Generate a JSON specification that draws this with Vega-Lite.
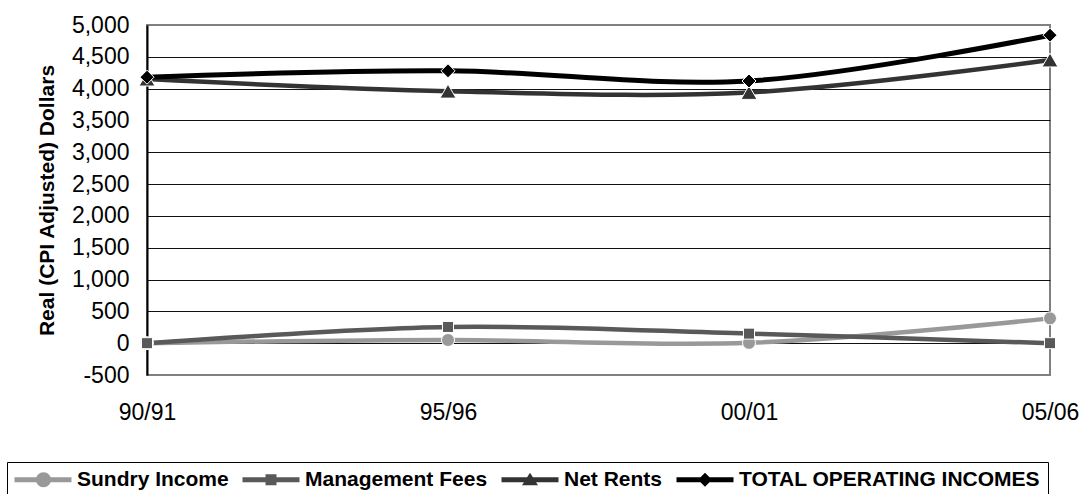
{
  "$schema": "https://vega.github.io/schema/vega-lite/v6.json",
  "autosize": "none",
  "width": 903,
  "height": 350,
  "padding": {"left": 147, "top": 25, "right": 33, "bottom": 119},
  "background": "white",
  "config": {
    "font": "Liberation Sans",
    "view": {"stroke": "#808080", "strokeWidth": 2},
    "legend": {
      "orient": "none",
      "direction": "horizontal",
      "strokeColor": "black",
      "strokeWidth": 1,
      "padding": 7,
      "labelFont": "Liberation Sans",
      "labelFontSize": 21,
      "labelFontWeight": "bold",
      "labelColor": "black",
      "labelLimit": 500,
      "labelOffset": 42,
      "columnPadding": 13,
      "symbolSize": 400,
      "symbolOpacity": 1,
      "symbolStrokeWidth": 0
    }
  },
  "data": {
    "values": [
      {"period": "90/91", "series": "Sundry Income", "value": 0},
      {"period": "95/96", "series": "Sundry Income", "value": 50},
      {"period": "00/01", "series": "Sundry Income", "value": 5},
      {"period": "05/06", "series": "Sundry Income", "value": 390},
      {"period": "90/91", "series": "Management Fees", "value": 0},
      {"period": "95/96", "series": "Management Fees", "value": 255},
      {"period": "00/01", "series": "Management Fees", "value": 150},
      {"period": "05/06", "series": "Management Fees", "value": 0},
      {"period": "90/91", "series": "Net Rents", "value": 4150},
      {"period": "95/96", "series": "Net Rents", "value": 3960},
      {"period": "00/01", "series": "Net Rents", "value": 3940},
      {"period": "05/06", "series": "Net Rents", "value": 4450},
      {"period": "90/91", "series": "TOTAL OPERATING INCOMES", "value": 4180},
      {"period": "95/96", "series": "TOTAL OPERATING INCOMES", "value": 4280},
      {"period": "00/01", "series": "TOTAL OPERATING INCOMES", "value": 4120},
      {"period": "05/06", "series": "TOTAL OPERATING INCOMES", "value": 4840}
    ]
  },
  "encoding": {
    "x": {
      "field": "period",
      "type": "ordinal",
      "scale": {"type": "point", "padding": 0, "domain": ["90/91", "95/96", "00/01", "05/06"]},
      "axis": {
        "title": null,
        "labelAngle": 0,
        "labelFontSize": 23,
        "labelColor": "black",
        "labelPadding": 26,
        "domain": false,
        "ticks": false,
        "grid": false
      }
    },
    "y": {
      "field": "value",
      "type": "quantitative",
      "scale": {"domain": [-500, 5000], "nice": false, "zero": false},
      "axis": {
        "title": "Real (CPI Adjusted) Dollars",
        "titleFontSize": 21,
        "titleFontWeight": "bold",
        "titleColor": "black",
        "titlePadding": 14,
        "values": [-500, 0, 500, 1000, 1500, 2000, 2500, 3000, 3500, 4000, 4500, 5000],
        "format": ",.0f",
        "labelExpr": "replace(datum.label, '\u2212', '-')",
        "labelFontSize": 23,
        "labelColor": "black",
        "labelPadding": 18,
        "ticks": false,
        "domain": true,
        "domainColor": "black",
        "domainWidth": 2,
        "grid": true,
        "gridColor": "#111111",
        "gridWidth": 1,
        "gridOpacity": {"condition": {"test": "datum.value == 5000 || datum.value == -500", "value": 0}, "value": 1}
      }
    }
  },
  "layer": [
    {
      "transform": [{"filter": "datum.series == 'Sundry Income'"}],
      "mark": {"type": "line", "interpolate": "catmull-rom", "strokeWidth": 4.5, "color": "#999999"}
    },
    {
      "transform": [{"filter": "datum.series == 'Management Fees'"}],
      "mark": {"type": "line", "interpolate": "catmull-rom", "strokeWidth": 4.5, "color": "#595959"}
    },
    {
      "transform": [{"filter": "datum.series == 'Net Rents'"}],
      "mark": {"type": "line", "interpolate": "catmull-rom", "strokeWidth": 4.5, "color": "#333333"}
    },
    {
      "transform": [{"filter": "datum.series == 'TOTAL OPERATING INCOMES'"}],
      "mark": {"type": "line", "interpolate": "catmull-rom", "strokeWidth": 5, "color": "#000000"}
    },
    {
      "transform": [{"filter": "datum.series == 'Sundry Income'"}],
      "mark": {"type": "point", "shape": "circle", "filled": true, "size": 169, "opacity": 1, "color": "#999999", "stroke": "white", "strokeWidth": 1}
    },
    {
      "transform": [{"filter": "datum.series == 'Management Fees'"}],
      "mark": {"type": "point", "shape": "square", "filled": true, "size": 121, "opacity": 1, "color": "#595959", "stroke": "white", "strokeWidth": 1}
    },
    {
      "transform": [{"filter": "datum.series == 'Net Rents'"}],
      "mark": {"type": "point", "shape": "triangle-up", "filled": true, "size": 256, "opacity": 1, "color": "#333333", "stroke": "white", "strokeWidth": 1}
    },
    {
      "transform": [{"filter": "datum.series == 'TOTAL OPERATING INCOMES'"}],
      "mark": {"type": "point", "shape": "diamond", "filled": true, "size": 196, "opacity": 1, "color": "#000000", "stroke": "white", "strokeWidth": 1}
    },
    {
      "mark": {"type": "point", "filled": true, "opacity": 0},
      "encoding": {
        "color": {
          "field": "series",
          "type": "nominal",
          "scale": {
            "domain": ["Sundry Income", "Management Fees", "Net Rents", "TOTAL OPERATING INCOMES"],
            "range": ["#999999", "#595959", "#333333", "#000000"]
          },
          "legend": {"orient": "none", "legendX": -140, "legendY": 437, "direction": "horizontal", "title": null}
        },
        "shape": {
          "field": "series",
          "type": "nominal",
          "scale": {
            "domain": ["Sundry Income", "Management Fees", "Net Rents", "TOTAL OPERATING INCOMES"],
            "range": [
              "M-1,-0.25H4.7V0.25H-1Z M1.15,0A0.75,0.75 0 1,1 2.65,0A0.75,0.75 0 1,1 1.15,0Z",
              "M-1,-0.25H4.7V0.25H-1Z M1.3,-0.55H2.4V0.55H1.3Z",
              "M-1,-0.25H4.7V0.25H-1Z M1.85,-0.7L2.65,0.55H1.05Z",
              "M-1,-0.25H4.7V0.25H-1Z M1.85,-0.7L2.55,0L1.85,0.7L1.15,0Z"
            ]
          },
          "legend": {"orient": "none", "legendX": -140, "legendY": 437, "direction": "horizontal", "title": null}
        }
      }
    }
  ]
}
